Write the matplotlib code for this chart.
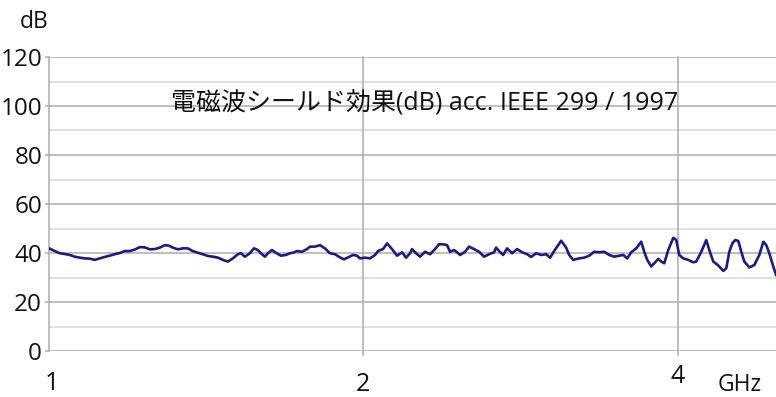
import matplotlib
matplotlib.use("Agg")
import matplotlib.pyplot as plt
import matplotlib.transforms as mtransforms

plt.rcParams['font.family'] = ['Open Sans', 'Noto Sans CJK JP', 'DejaVu Sans']

# Shielding effectiveness measurement (frequency in GHz, attenuation in dB)
freq_ghz = [
    1.000, 1.0127, 1.0239, 1.0353, 1.0468, 1.0584, 1.0701, 1.0820, 1.0940, 1.1061,
    1.1184, 1.1308, 1.1434, 1.1561, 1.1689, 1.1819, 1.1950, 1.2083, 1.2217, 1.2352,
    1.2490, 1.2628, 1.2768, 1.2910, 1.3024, 1.3140, 1.3286, 1.3433, 1.3582, 1.3733,
    1.3886, 1.4040, 1.4195, 1.4353, 1.4512, 1.4673, 1.4836, 1.5001, 1.5167, 1.5268,
    1.5404, 1.5575, 1.5713, 1.5852, 1.5957, 1.6099, 1.6206, 1.6350, 1.6495, 1.6678,
    1.6863, 1.7013, 1.7126, 1.7278, 1.7470, 1.7664, 1.7781, 1.7978, 1.8178, 1.8380,
    1.8584, 1.8790, 1.8999, 1.9167, 1.9337, 1.9552, 1.9725, 1.9857, 2.0077, 2.0300,
    2.0525, 2.0661, 2.0890, 2.1076, 2.1310, 2.1546, 2.1785, 2.1978, 2.2173, 2.2271,
    2.2419, 2.2668, 2.2919, 2.3173, 2.3430, 2.3638, 2.3900, 2.4059, 2.4219, 2.4434,
    2.4596, 2.4760, 2.5034, 2.5256, 2.5536, 2.5820, 2.6106, 2.6396, 2.6689, 2.6807,
    2.6985, 2.7225, 2.7466, 2.7771, 2.8079, 2.8391, 2.8706, 2.8960, 2.9282, 2.9607,
    2.9935, 3.0201, 3.0469, 3.0671, 3.0943, 3.1287, 3.1495, 3.1774, 3.2198, 3.2555,
    3.2916, 3.3281, 3.3650, 3.4024, 3.4401, 3.4783, 3.5169, 3.5481, 3.5796, 3.6113,
    3.6514, 3.6919, 3.7164, 3.7411, 3.7743, 3.7994, 3.8331, 3.8586, 3.8843, 3.9187,
    3.9622, 3.9886, 4.0151, 4.0507, 4.0957, 4.1411, 4.1686, 4.2149, 4.2617, 4.2900,
    4.3280, 4.3761, 4.4246, 4.4540, 4.4836, 4.5134, 4.5433, 4.5735, 4.6039, 4.6345,
    4.6859, 4.7379, 4.7905, 4.8330, 4.8649, 4.8972, 4.9403, 4.9700,
]
shielding_db = [
    41.9, 40.8, 39.9, 39.6, 39.2, 38.5, 38.1, 37.8, 37.7, 37.2,
    37.8, 38.4, 38.9, 39.5, 40.0, 40.8, 40.8, 41.4, 42.4, 42.3,
    41.5, 41.6, 42.2, 43.2, 43.0, 42.2, 41.5, 41.9, 41.9, 40.8,
    40.1, 39.5, 38.8, 38.5, 38.1, 37.2, 36.5, 37.8, 39.5, 39.9,
    38.5, 39.9, 41.9, 41.2, 39.9, 38.5, 39.9, 41.2, 40.1, 38.9,
    39.2, 39.9, 40.1, 40.8, 40.5, 41.6, 42.6, 42.6, 43.2, 41.9,
    39.9, 39.5, 38.2, 37.4, 38.2, 39.2, 38.9, 37.8, 38.1, 37.8,
    39.2, 40.8, 41.6, 43.9, 41.6, 38.9, 40.3, 38.1, 39.9, 41.6,
    40.3, 38.5, 40.5, 39.5, 41.6, 43.6, 43.5, 43.2, 40.5, 41.2,
    40.3, 39.2, 40.5, 42.6, 41.6, 40.5, 38.5, 39.5, 40.3, 42.2,
    40.8, 39.2, 41.9, 39.9, 41.6, 40.3, 39.5, 38.4, 39.9, 39.2,
    39.5, 38.1, 40.8, 42.6, 45.0, 42.2, 39.2, 37.2, 37.8, 38.1,
    38.9, 40.5, 40.3, 40.5, 39.2, 38.5, 38.9, 39.2, 37.8, 40.3,
    41.9, 44.6, 40.5, 37.2, 34.5, 35.8, 37.6, 36.5, 35.8, 41.2,
    46.2, 45.3, 39.2, 37.8, 37.2, 36.2, 36.5, 40.5, 45.3, 41.2,
    36.5, 34.9, 32.7, 33.8, 40.5, 43.9, 45.3, 44.9, 40.5, 36.5,
    34.1, 35.1, 39.2, 44.6, 43.2, 39.9, 34.5, 31.1,
]

y_ticks = [0, 20, 40, 60, 80, 100, 120]
y_minor = [10, 30, 50, 70, 90, 110]
x_labels = [(1.006, "1", -0.109), (2.0, "2", -0.114), (4.0, "4", -0.087)]
title_text = "電磁波シールド効果(dB) acc. IEEE 299 / 1997"

fig = plt.figure(figsize=(7.76, 3.97), dpi=100)
ax = fig.add_axes([49 / 776, 1 - 351 / 397, 1 - 49 / 776, 294 / 397])

ax.set_xscale('log')
ax.set_xlim(1.0, 4.97)
ax.set_ylim(0, 120)

major_c = '#acacac'
minor_c = '#d8d8d8'
for v in y_minor:
    ax.axhline(v, color=minor_c, lw=1.1, zorder=1)
for v in y_ticks:
    ax.axhline(v, color=major_c, lw=1.1, zorder=1)
for f in (2.0, 4.0):
    ax.axvline(f, ymin=-0.012, ymax=1.0, color=major_c, lw=1.1, zorder=1, clip_on=False)

for side in ('top', 'right', 'bottom'):
    ax.spines[side].set_visible(False)
ax.spines['left'].set_color(major_c)
ax.spines['left'].set_linewidth(1.1)

ax.set_yticks(y_ticks)
ax.set_yticklabels([str(v) for v in y_ticks])
ax.tick_params(axis='y', length=3, color=major_c, width=1.1, pad=2,
               labelsize=17.5, labelcolor='#111111')
ax.set_xticks([])
ax.xaxis.set_minor_locator(matplotlib.ticker.NullLocator())

ax.plot(freq_ghz, shielding_db, color='#1b1b84', lw=1.9, zorder=3,
        solid_joinstyle='round')

trans = mtransforms.blended_transform_factory(ax.transData, ax.transAxes)
for xv, lab, yv in x_labels:
    ax.text(xv, yv, lab, transform=trans, ha='center', va='center',
            fontsize=18, color='#111111', clip_on=False)
ax.text(4.585, -0.116, "GHz", transform=trans, ha='center', va='center',
        fontsize=16.5, color='#111111', clip_on=False)

fig.text(34.5 / 776, 1 - 22 / 397, "dB", ha='center', va='center',
         fontsize=16.5, color='#111111')

ax.text(0.517, 0.840, title_text, transform=ax.transAxes, ha='center',
        va='center', fontsize=18, color='#111111', zorder=4)

fig.savefig('out.png', dpi=100)
